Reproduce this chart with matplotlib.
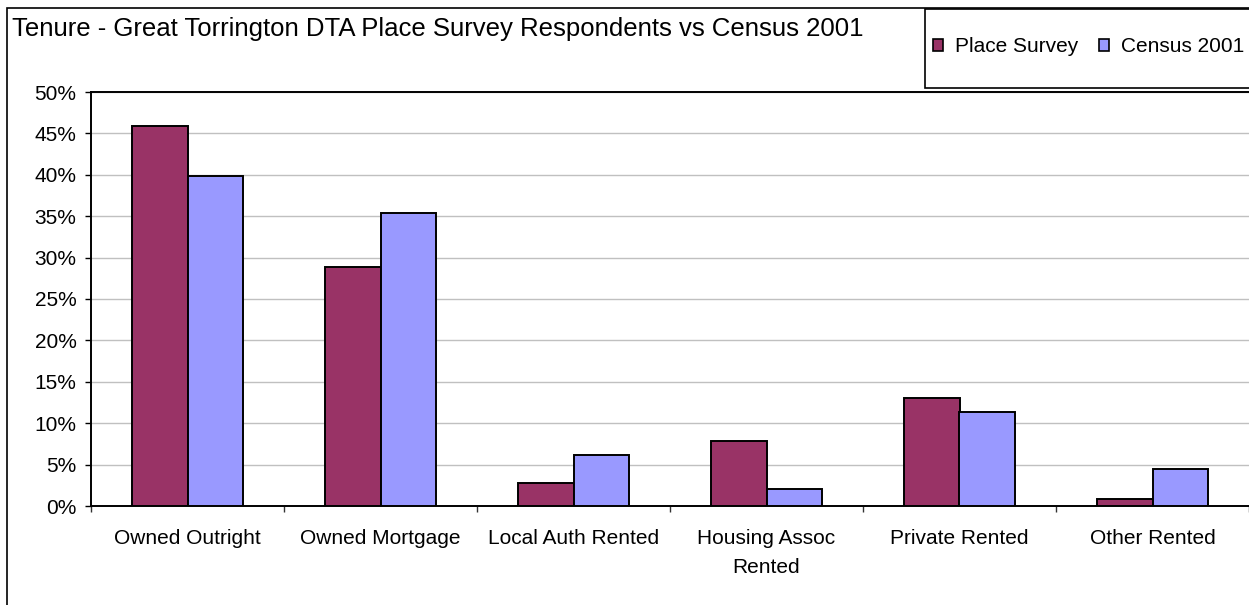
import matplotlib
matplotlib.use("Agg")
import matplotlib.pyplot as plt
from matplotlib.patches import Rectangle, Patch
from matplotlib.ticker import FuncFormatter, MultipleLocator, FixedLocator
import numpy as np

plt.rcParams['font.family'] = ['Liberation Sans', 'DejaVu Sans']

title = "Tenure - Great Torrington DTA Place Survey Respondents vs Census 2001"
categories = ["Owned Outright", "Owned Mortgage", "Local Auth Rented",
              "Housing Assoc\nRented", "Private Rented", "Other Rented"]
series_names = ["Place Survey", "Census 2001"]
place_survey = [45.9, 28.9, 2.8, 7.9, 13.0, 0.9]
census_2001 = [39.8, 35.4, 6.2, 2.1, 11.3, 4.5]
colors = ["#993366", "#9999FF"]

W, H = 1249, 605
FS = 15
fig = plt.figure(figsize=(W / 100, H / 100), dpi=100)
fig.patch.set_facecolor("white")

# outer chart border
fig.patches.append(Rectangle((7 / W, -0.05), 1.1, 1 - 8 / H + 0.05,
                             transform=fig.transFigure, fill=False,
                             edgecolor="black", linewidth=1.2))

ax = fig.add_axes([91 / W, 1 - 506 / H, (W - 91) / W, (506 - 92) / H])

x = np.arange(len(categories))
w = 0.29
ax.bar(x - w / 2, place_survey, width=w, color=colors[0], edgecolor="black",
       linewidth=1.4, zorder=3)
ax.bar(x + w / 2, census_2001, width=w, color=colors[1], edgecolor="black",
       linewidth=1.4, zorder=3)

ax.set_xlim(-0.5, len(categories) - 0.5)
ax.set_ylim(0, 50)
ax.yaxis.set_major_locator(MultipleLocator(5))
ax.yaxis.set_major_formatter(FuncFormatter(lambda v, p: f"{v:.0f}%"))
ax.grid(axis="y", color="#c0c0c0", linewidth=1, zorder=0)
ax.set_axisbelow(True)

ax.set_xticks(x)
ax.set_xticklabels(categories, fontsize=FS, linespacing=1.7)
ax.xaxis.set_minor_locator(FixedLocator(np.arange(-0.5, len(categories), 1.0)))
ax.tick_params(axis="x", which="major", length=0, pad=16.5)
ax.tick_params(axis="x", which="minor", length=4.5, width=1, color="#333333",
               direction="out")
ax.tick_params(axis="y", which="major", length=4.5, width=1, direction="out",
               labelsize=FS, pad=6)

for s in ["left", "bottom", "top"]:
    ax.spines[s].set_color("black")
    ax.spines[s].set_linewidth(1.4)
ax.spines["right"].set_visible(False)

fig.text(12 / W, 1 - 29 / H, title, fontsize=18.5, ha="left", va="center")

# legend box
fig.patches.append(Rectangle((925 / W, 1 - 88 / H), 1.0, (88 - 9) / H,
                             transform=fig.transFigure, facecolor="white",
                             edgecolor="black", linewidth=1.2, zorder=5))
handles = [Patch(facecolor=c, edgecolor="black", linewidth=1.2) for c in colors]
leg = fig.legend(handles, series_names, loc="center left",
                 bbox_to_anchor=(933 / W, 1 - 47 / H), ncol=2, frameon=False,
                 fontsize=FS, handlelength=0.5, handleheight=0.5,
                 handletextpad=0.55, columnspacing=1.0, borderpad=0,
                 borderaxespad=0)
leg.set_zorder(6)

fig.savefig("out.png", dpi=100, facecolor="white")
